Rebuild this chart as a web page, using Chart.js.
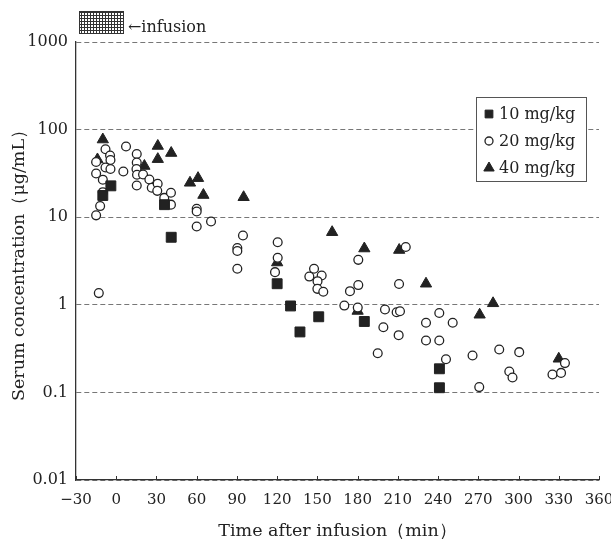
<!DOCTYPE html>
<html>
<head>
<meta charset="utf-8">
<script src="https://cdn.jsdelivr.net/npm/chart.js@4.4.1/dist/chart.umd.min.js"></script>
<style>
  html, body { margin: 0; padding: 0; background: #ffffff; }
  #wrap { width: 611px; height: 542px; }
</style>
</head>
<body>
<div id="wrap"><canvas id="grafico"></canvas></div>
<script>
// ---- datos ----
const dose10Time = [-10, -4, 36, 41, 120, 130, 137, 151, 185, 241, 241];
const dose10Conc = [17.7, 22.8, 13.9, 5.9, 1.74, 0.97, 0.49, 0.73, 0.645, 0.186, 0.113];

const dose20Time = [-15, -12, -10, -10, -15, -15, -8, -4.6, -4.3, -8, -4.3, -13,
  7.3, 5.3, 15.3, 15.3, 15.1, 15.5, 15.3, 20, 24.7, 26.5, 30.9, 30.6, 35.8, 40.8, 40.8,
  60, 60, 60, 70.7, 94.5, 90.3, 90.3, 90.3, 120.4, 120.4, 118.4,
  147.5, 144, 153.2, 150.1, 150, 154.4, 180.5, 180.5, 174.3, 170.1, 180.1,
  200.4, 209.1, 211.6, 199.2, 210.6, 195, 215.9, 210.9, 231, 231, 240.9, 240.9,
  250.9, 245.9, 265.7, 270.7, 285.6, 300.5, 293.1, 295.5, 325.3, 331.7, 334.6];
const dose20Conc = [10.5, 13.4, 19.3, 26.8, 31.5, 42.7, 59.7, 50.6, 45, 36.9, 35.5, 1.36,
  64.1, 33.2, 52.7, 42.1, 35.5, 30.5, 23, 30.7, 26.9, 21.7, 24.1, 20, 16.6, 19, 13.9,
  12.5, 11.6, 7.83, 8.93, 6.18, 4.45, 4.11, 2.58, 5.18, 3.44, 2.36,
  2.58, 2.1, 2.16, 1.86, 1.52, 1.41, 3.26, 1.68, 1.43, 0.98, 0.93,
  0.884, 0.823, 0.845, 0.555, 0.45, 0.28, 4.57, 1.73, 0.623, 0.391, 0.806, 0.391,
  0.623, 0.239, 0.264, 0.115, 0.309, 0.288, 0.173, 0.148, 0.16, 0.167, 0.216];

const dose40Time = [-10, -14, 31, 31, 41, 21, 55, 61, 65, 95, 120, 161, 185, 211, 180, 231, 271, 281, 330];
const dose40Conc = [77, 45.6, 65, 46, 54, 38.4, 24.7, 27.9, 17.9, 16.9, 3.04, 6.74, 4.39, 4.22, 0.85, 1.74, 0.77, 1.04, 0.242];

const seriesLabels = ['10 mg/kg', '20 mg/kg', '40 mg/kg'];
const yTickValues = [0.01, 0.1, 1, 10, 100, 1000];
const xTickMin = -30, xTickMax = 360, xTickStep = 30;
const infusionSpan = [-27.5, 5];   // barra de infusión (min)

const FUENTE = 'DejaVu Serif';
const NEGRO = '#222222';

const pares = (xs, ys) => xs.map((x, i) => ({ x: x, y: ys[i] }));

// ---- plugin: marcas del eje X hacia dentro ----
const marcasX = {
  id: 'marcasX',
  afterDraw(chart) {
    const ctx = chart.ctx, sx = chart.scales.x, base = chart.chartArea.bottom;
    ctx.save();
    ctx.strokeStyle = '#333';
    ctx.lineWidth = 1;
    sx.ticks.forEach(t => {
      const px = Math.round(sx.getPixelForValue(t.value)) + 0.5;
      ctx.beginPath();
      ctx.moveTo(px, base);
      ctx.lineTo(px, base - 4);
      ctx.stroke();
    });
    ctx.restore();
  }
};

// ---- plugin: barra de infusión y leyenda ----
const anotaciones = {
  id: 'anotaciones',
  afterDraw(chart) {
    const ctx = chart.ctx, area = chart.chartArea, sx = chart.scales.x;
    ctx.save();

    // barra rellena con una trama cuadriculada
    const trama = document.createElement('canvas');
    trama.width = 3; trama.height = 3;
    const tc = trama.getContext('2d');
    tc.fillStyle = '#ffffff'; tc.fillRect(0, 0, 3, 3);
    tc.fillStyle = '#333333'; tc.fillRect(0, 0, 3, 1); tc.fillRect(0, 0, 1, 3);
    const x0 = sx.getPixelForValue(infusionSpan[0]);
    const x1 = sx.getPixelForValue(infusionSpan[1]);
    const y0 = area.top - 31, alto = 22;
    ctx.fillStyle = ctx.createPattern(trama, 'repeat');
    ctx.fillRect(x0, y0, x1 - x0, alto);
    ctx.strokeStyle = '#333';
    ctx.lineWidth = 1;
    ctx.strokeRect(Math.round(x0) + 0.5, y0 + 0.5, Math.round(x1 - x0), alto);
    ctx.fillStyle = NEGRO;
    ctx.font = '16px "' + FUENTE + '"';
    ctx.textBaseline = 'alphabetic';
    ctx.textAlign = 'left';
    ctx.fillText('←infusion', x1 + 5, area.top - 10);

    // leyenda
    const lx = area.right - 123, ly = area.top + 55, lw = 110, lh = 84;
    ctx.fillStyle = '#ffffff';
    ctx.fillRect(lx, ly, lw, lh);
    ctx.strokeStyle = '#555';
    ctx.strokeRect(lx + 0.5, ly + 0.5, lw, lh);
    chart.data.datasets.forEach((ds, i) => {
      const cy = ly + 17 + i * 27;
      ctx.fillStyle = ds.pointBackgroundColor;
      ctx.strokeStyle = ds.pointBorderColor;
      ctx.lineWidth = ds.pointBorderWidth;
      Chart.helpers.drawPoint(ctx, {
        pointStyle: ds.pointStyle,
        radius: ds.legendRadius,
        rotation: 0,
        borderWidth: ds.pointBorderWidth
      }, lx + 13, cy);
      ctx.fillStyle = NEGRO;
      ctx.textBaseline = 'middle';
      ctx.fillText(ds.label, lx + 23, cy + 1);
    });
    ctx.restore();
  }
};

const ctxGrafico = document.getElementById('grafico').getContext('2d');
const grafico = new Chart(ctxGrafico, {
  type: 'scatter',
  data: {
    datasets: [
      {
        label: seriesLabels[0],
        data: pares(dose10Time, dose10Conc),
        pointStyle: 'rect',
        pointRadius: 7,
        legendRadius: 5.5,
        pointBackgroundColor: NEGRO,
        pointBorderColor: NEGRO,
        pointBorderWidth: 1
      },
      {
        label: seriesLabels[1],
        data: pares(dose20Time, dose20Conc),
        pointStyle: 'circle',
        pointRadius: 4.4,
        legendRadius: 4,
        pointBackgroundColor: '#ffffff',
        pointBorderColor: NEGRO,
        pointBorderWidth: 1.3
      },
      {
        label: seriesLabels[2],
        data: pares(dose40Time, dose40Conc),
        pointStyle: 'triangle',
        pointRadius: 6.5,
        legendRadius: 6,
        pointBackgroundColor: NEGRO,
        pointBorderColor: NEGRO,
        pointBorderWidth: 1
      }
    ]
  },
  options: {
    responsive: true,
    maintainAspectRatio: false,
    animation: false,
    layout: { padding: { left: 0, top: 42, right: 12, bottom: 0 } },
    plugins: {
      legend: { display: false },
      tooltip: { enabled: false }
    },
    scales: {
      x: {
        type: 'linear',
        min: xTickMin,
        max: xTickMax,
        grid: { display: false, drawTicks: false },
        border: { display: true, color: '#333', width: 1.3 },
        ticks: {
          stepSize: xTickStep,
          padding: 11,
          color: NEGRO,
          font: { family: FUENTE, size: 15 },
          maxRotation: 0,
          autoSkip: false,
          callback: v => (v < 0 ? '−' + Math.abs(v) : String(v))
        },
        title: {
          display: true,
          text: 'Time after infusion（min）',
          color: NEGRO,
          font: { family: FUENTE, size: 17.5 },
          padding: { top: 0, bottom: 0 }
        },
        afterFit: s => { s.height = 62; s.paddingLeft = 0; s.paddingRight = 0; }
      },
      y: {
        type: 'logarithmic',
        min: yTickValues[0],
        max: yTickValues[yTickValues.length - 1],
        afterBuildTicks: s => { s.ticks = yTickValues.map(v => ({ value: v })); },
        grid: { color: '#777', lineWidth: 1, drawTicks: false },
        border: { display: true, color: '#333', width: 1.3, dash: [5, 3] },
        ticks: {
          padding: 8,
          color: NEGRO,
          font: { family: FUENTE, size: 16 },
          callback: v => String(v)
        },
        title: {
          display: true,
          text: 'Serum concentration（μg/mL）',
          color: NEGRO,
          font: { family: FUENTE, size: 17.5 },
          padding: { top: 9, bottom: 0 }
        },
        afterFit: s => { s.width = 76; }
      }
    }
  },
  plugins: [marcasX, anotaciones]
});
</script>
</body>
</html>
